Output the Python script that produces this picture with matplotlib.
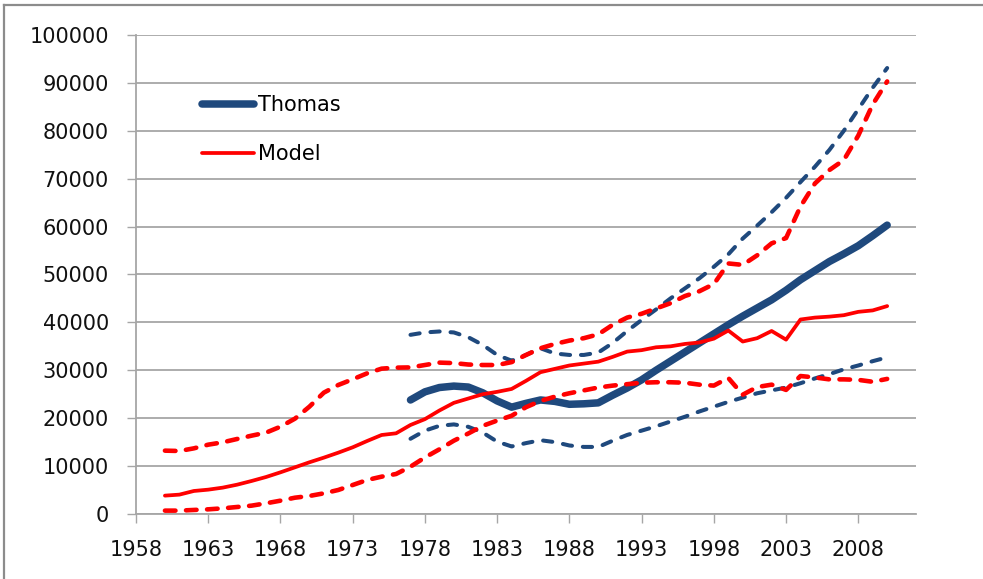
import matplotlib
matplotlib.use("Agg")
import matplotlib.pyplot as plt
from matplotlib.lines import Line2D

# -------------------------------------------------------------------
# data
# -------------------------------------------------------------------
model_years = list(range(1960, 2011))
thomas_years = list(range(1977, 2011))

model = [3830, 4040, 4800, 5080, 5500, 6120, 6890, 7720, 8700, 9740,
         10790, 11760, 12800, 13920, 15240, 16490, 16840, 18580, 19800, 21600,
         23200, 24100, 25000, 25500, 26100, 27800, 29600, 30300, 31000, 31400,
         31800, 32800, 33900, 34200, 34800, 35000, 35500, 35800, 36600, 38300,
         36000, 36700, 38200, 36400, 40600, 41000, 41200, 41500, 42200, 42500,
         43400]

model_low = [700, 700, 840, 970, 1180, 1460, 1740, 2230, 2780, 3400,
             3760, 4310, 5010, 6050, 7100, 7790, 8350, 9880, 11800, 13500,
             15300, 16800, 18400, 19500, 20500, 22300, 23600, 24500, 25200, 25800,
             26400, 26800, 27100, 27400, 27500, 27500, 27400, 27000, 26800, 28400,
             24900, 26500, 27000, 25900, 28800, 28500, 28100, 28100, 28000, 27600,
             28200]

model_high = [13220, 13150, 13700, 14470, 14960, 15660, 16350, 16980, 18230, 19900,
              22400, 25330, 26930, 28120, 29370, 30340, 30550, 30600, 31100, 31600,
              31500, 31200, 31100, 31100, 31700, 33200, 34600, 35500, 36200, 36700,
              37500, 39500, 41000, 41800, 42900, 44000, 45500, 46500, 48000, 52300,
              52000, 54000, 56500, 57600, 64200, 69000, 71800, 73900, 79000, 85500,
              90300]

thomas = [23800, 25500, 26400, 26700, 26500, 25300, 23600, 22300, 23100, 23800,
          23500, 22900, 23000, 23200, 24800, 26300, 28000, 30000, 31900, 33800,
          35700, 37600, 39500, 41300, 43000, 44700, 46700, 48900, 50800, 52700,
          54300, 56000, 58100, 60300]

thomas_low = [15700, 17400, 18400, 18700, 18200, 17000, 15100, 14100, 14800, 15400,
              15000, 14300, 14000, 14000, 15300, 16500, 17400, 18300, 19300, 20300,
              21400, 22400, 23400, 24300, 25200, 25800, 26400, 27300, 28300, 29200,
              30200, 31000, 31900, 32700]

thomas_high = [37400, 37900, 38100, 37900, 36900, 35300, 33200, 32000, 33200, 34600,
               33500, 33200, 33200, 33700, 35700, 38200, 40500, 42700, 45000, 47100,
               49200, 51600, 54200, 57500, 60200, 63000, 66000, 69300, 72500, 76000,
               80000, 84500, 89000, 93100]

x_ticks = [1958, 1963, 1968, 1973, 1978, 1983, 1988, 1993, 1998, 2003, 2008]
y_ticks = [0, 10000, 20000, 30000, 40000, 50000, 60000, 70000, 80000, 90000, 100000]

BLUE = "#1f497d"
RED = "#ff0000"
GRID = "#a6a6a6"

# -------------------------------------------------------------------
# plot
# -------------------------------------------------------------------
plt.rcParams["font.family"] = "DejaVu Sans"

fig = plt.figure(figsize=(9.83, 5.79), dpi=100)
ax = fig.add_axes([0.1384, 0.1123, 0.7935, 0.8273])

th_line, = ax.plot(thomas_years, thomas, color=BLUE, lw=5.4,
                   solid_capstyle="round", solid_joinstyle="round", label="Thomas")
ax.plot(thomas_years, thomas_low, color=BLUE, lw=2.9, ls=(0, (2.3, 2.7)),
        dash_capstyle="round")
ax.plot(thomas_years, thomas_high, color=BLUE, lw=2.9, ls=(0, (2.3, 2.7)),
        dash_capstyle="round")

mo_line, = ax.plot(model_years, model, color=RED, lw=2.7,
                   solid_capstyle="round", label="Model")
ax.plot(model_years, model_low, color=RED, lw=3.3, ls=(0, (2.3, 2.3)),
        dash_capstyle="round")
ax.plot(model_years, model_high, color=RED, lw=3.3, ls=(0, (2.3, 2.3)),
        dash_capstyle="round")

ax.set_xlim(1958, 2012)
ax.set_ylim(0, 100000)
ax.set_xticks(x_ticks)
ax.set_xticklabels([str(v) for v in x_ticks])
ax.set_yticks(y_ticks)
ax.set_yticklabels([str(v) for v in y_ticks])

ax.yaxis.grid(True, color=GRID, lw=1.3)
ax.set_axisbelow(True)
for side in ["top", "right"]:
    ax.spines[side].set_visible(False)
for side in ["left", "bottom"]:
    ax.spines[side].set_color(GRID)
    ax.spines[side].set_linewidth(1.3)

ax.tick_params(axis="both", colors=GRID, labelcolor="#111111", labelsize=15,
               direction="out", length=6.5, width=1.0)
ax.tick_params(axis="y", pad=13)
ax.tick_params(axis="x", pad=12)

ax.legend(handles=[th_line, mo_line], loc="upper left",
          bbox_to_anchor=(0.205, 0.836), bbox_transform=fig.transFigure,
          frameon=False, fontsize=15, handlelength=2.5, handletextpad=0.2,
          labelspacing=1.39, borderpad=0, borderaxespad=0)

# outer frame of the chart area (top and left edge)
fig.add_artist(Line2D([0.004, 0.004], [0, 0.992], transform=fig.transFigure,
                      color="#8c8c8c", lw=1.6))
fig.add_artist(Line2D([0.004, 1.0], [0.992, 0.992], transform=fig.transFigure,
                      color="#8c8c8c", lw=1.6))

fig.savefig("out.png", dpi=100)
